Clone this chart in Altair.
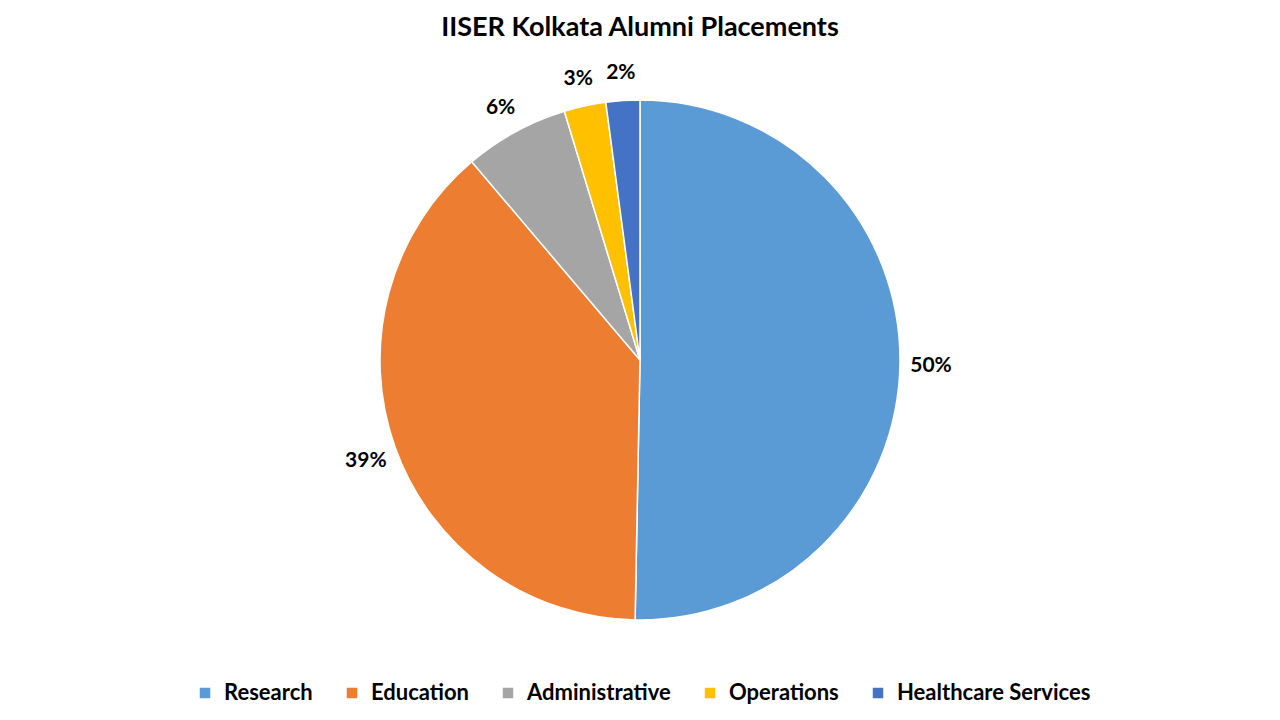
import altair as alt
import pandas as pd

categories = ["Research", "Education", "Administrative", "Operations", "Healthcare Services"]
values = [50.3, 38.5, 6.5, 2.6, 2.1]
labels = ["50%", "39%", "6%", "3%", "2%"]
colors = ["#5B9BD5", "#ED7D31", "#A5A5A5", "#FFC000", "#4472C4"]
title_text = "IISER Kolkata Alumni Placements"

df = pd.DataFrame({"category": categories, "value": values, "label": labels,
                   "idx": list(range(len(categories)))})

FONT = "Lato"
W, H = 1264, 704
CX, CY = 632, 352

base = alt.Chart(df).encode(
    theta=alt.Theta("value:Q", stack=True),
    order=alt.Order("idx:Q"),
)

arcs = base.mark_arc(radius=260, stroke="white", strokeWidth=1.5).encode(
    x=alt.value(CX), y=alt.value(CY),
    color=alt.Color("category:N",
                    scale=alt.Scale(domain=categories, range=colors),
                    sort=categories,
                    legend=alt.Legend(title=None, orient="none", direction="horizontal",
                                      legendX=186, legendY=674,
                                      symbolType="square", symbolSize=110,
                                      symbolStrokeWidth=0,
                                      labelFont=FONT, labelFontSize=22,
                                      labelColor="#000000", labelFontWeight="bold",
                                      labelLimit=400,
                                      columnPadding=28, labelOffset=8)),
)

texts = base.mark_text(radius=291, font=FONT, fontSize=21, fontWeight="bold",
                       color="#000000").encode(
    x=alt.value(CX), y=alt.value(CY + 3),
    text="label:N",
)

title = alt.Chart(pd.DataFrame({"t": [title_text]})).mark_text(
    font=FONT, fontSize=27, fontWeight="bold", color="#000000"
).encode(x=alt.value(CX), y=alt.value(20), text="t:N")

chart = alt.layer(arcs, texts, title).properties(
    width=W, height=H,
    autosize=alt.AutoSizeParams(type="none"),
    padding=0,
).configure_view(strokeWidth=0)

chart.save("out.html", embed_options={"renderer": "svg", "actions": False})
